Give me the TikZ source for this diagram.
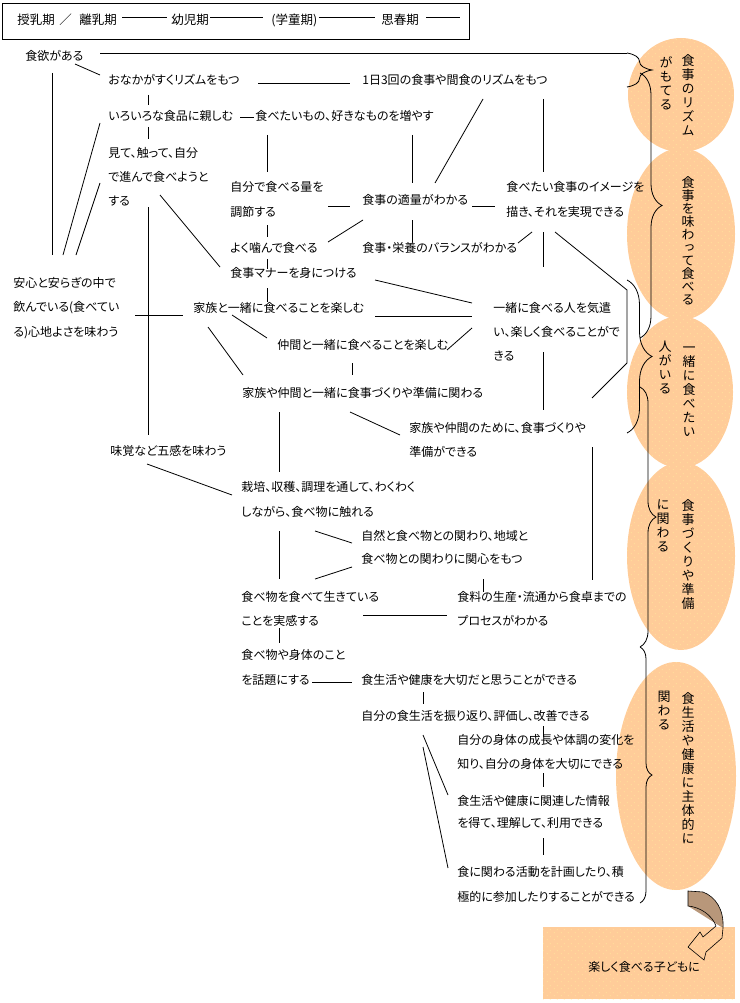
\documentclass[tikz,border=0pt]{standalone}
\usepackage{fontspec}
\newfontfamily\jp[RawFeature=+palt]{Noto Sans CJK JP}
\newfontfamily\jpv[RawFeature=+vert]{Noto Sans CJK JP}
\usetikzlibrary{decorations.pathreplacing,patterns.meta}
\definecolor{peach}{HTML}{FFCC99}
\definecolor{dotyellow}{HTML}{FFF0A0}
\definecolor{arrowbrown}{HTML}{B8977A}
\tikzdeclarepattern{name=sparsedots,type=uncolored,
  bounding box={(0pt,0pt) and (7pt,7pt)},tile size={(7pt,7pt)},
  code={\pgfpathrectangle{\pgfqpoint{1pt}{1pt}}{\pgfqpoint{0.8pt}{0.8pt}}
        \pgfpathrectangle{\pgfqpoint{4.5pt}{4.5pt}}{\pgfqpoint{0.8pt}{0.8pt}}
        \pgfusepath{fill}}}
\begin{document}
\begin{tikzpicture}[x=1pt,y=-1pt,line width=0.8pt,
  txt/.style={anchor=west,inner sep=0pt,font=\jp\fontsize{12}{14}\selectfont},
  head/.style={txt,font=\jp\fontsize{12.5}{14}\selectfont},
  vtxt/.style={anchor=north,inner sep=0pt,align=center,font=\jpv\fontsize{13}{14}\selectfont},
  blob/.style={fill=peach,postaction={pattern=sparsedots,pattern color=dotyellow}},
  brc/.style={decorate,decoration={brace,amplitude=#1}}]
\useasboundingbox (0,0) rectangle (739,1003);
\path[blob] (681,95) ellipse (53 and 57);
\path[blob] (681,234) ellipse (54 and 86);
\path[blob] (680,392) ellipse (53 and 76);
\path[blob] (681,556) ellipse (54 and 94);
\path[blob] (676,776) ellipse (60 and 114);
\fill[arrowbrown] (688,891) -- (703,892) .. controls (716,897) and (724,910) .. (723,928) -- (688,906) -- cycle;
\path[blob] (543,927) rectangle (735,999);
\draw[line width=0.6pt] (688,891) -- (703,892) .. controls (716,897) and (724,910) .. (723,928) -- (722,938) -- (706,952) -- (704,960) -- (688,947) -- (700,932) -- (703,937) -- (716,926) .. controls (712,915) and (700,907) .. (688,906) -- cycle;
\draw (2,3) rectangle (469,39);
\node[head] (jyunyu) at (17,20) {授乳期};
\node[head] (slash) at (59,20) {／};
\node[head] (rinyu) at (79,20) {離乳期};
\node[head] (yoji) at (171,20) {幼児期};
\node[head] (gakudo) at (271,20) {(学童期)};
\node[head] (shishun) at (381,20) {思春期};
\coordinate (hend) at (460,17);
\draw ([shift={(5,-3)}]rinyu.east) -- ([shift={(-4,-3)}]yoji.west);
\draw ([shift={(1,-3)}]yoji.east) -- ([shift={(-8,-3)}]gakudo.west);
\draw ([shift={(1,-3)}]gakudo.east) -- ([shift={(-6,-3)}]shishun.west);
\draw ([shift={(7,-3)}]shishun.east) -- (hend);
\node[txt] (shokuyoku) at (25,56) {食欲がある};
\node[txt] (onaka) at (108,80) {おなかがすくリズムをもつ};
\node[txt] (sankai) at (362,80) {1日3回の食事や間食のリズムをもつ};
\node[txt] (iroiro) at (108,116) {いろいろな食品に親しむ};
\node[txt] (suki) at (255,116) {食べたいもの、好きなものを増やす};
\node[txt] (mite1) at (108,153) {見て、触って、自分};
\node[txt] (mite2) at (108,177) {で進んで食べようと};
\node[txt] (mite3) at (108,201) {する};
\node[txt] (ryo1) at (230,187) {自分で食べる量を};
\node[txt] (ryo2) at (230,212) {調節する};
\node[txt] (tekiryo) at (362,200) {食事の適量がわかる};
\node[txt] (image1) at (506,187) {食べたい食事のイメージを};
\node[txt] (image2) at (506,212) {描き、それを実現できる};
\node[txt] (kamu) at (230,248) {よく噛んで食べる};
\node[txt] (balance) at (362,248) {食事・栄養のバランスがわかる};
\node[txt] (manner) at (230,273) {食事マナーを身につける};
\node[txt] (anshin1) at (13,283) {安心と安らぎの中で};
\node[txt] (anshin2) at (13,308) {飲んでいる(食べてい};
\node[txt] (anshin3) at (13,333) {る)心地よさを味わう};
\node[txt] (kazoku) at (193,308) {家族と一緒に食べることを楽しむ};
\node[txt] (kizukai1) at (493,308) {一緒に食べる人を気遣};
\node[txt] (kizukai2) at (493,332) {い、楽しく食べることがで};
\node[txt] (kizukai3) at (493,356) {きる};
\node[txt] (nakama) at (277,345) {仲間と一緒に食べることを楽しむ};
\node[txt] (junbi) at (242,393) {家族や仲間と一緒に食事づくりや準備に関わる};
\node[txt] (tame1) at (409,428) {家族や仲間のために、食事づくりや};
\node[txt] (tame2) at (409,452) {準備ができる};
\node[txt] (mikaku) at (110,451) {味覚など五感を味わう};
\node[txt] (saibai1) at (241,487) {栽培、収穫、調理を通して、わくわく};
\node[txt] (saibai2) at (241,512) {しながら、食べ物に触れる};
\node[txt] (shizen1) at (361,536) {自然と食べ物との関わり、地域と};
\node[txt] (shizen2) at (361,559) {食べ物との関わりに関心をもつ};
\node[txt] (ikiru1) at (241,597) {食べ物を食べて生きている};
\node[txt] (ikiru2) at (241,621) {ことを実感する};
\node[txt] (process1) at (457,597) {食料の生産・流通から食卓までの};
\node[txt] (process2) at (457,621) {プロセスがわかる};
\node[txt] (wadai1) at (241,655) {食べ物や身体のこと};
\node[txt] (wadai2) at (241,680) {を話題にする};
\node[txt] (taisetsu) at (361,680) {食生活や健康を大切だと思うことができる};
\node[txt] (furikaeri) at (361,716) {自分の食生活を振り返り、評価し、改善できる};
\node[txt] (karada1) at (457,740) {自分の身体の成長や体調の変化を};
\node[txt] (karada2) at (457,764) {知り、自分の身体を大切にできる};
\node[txt] (joho1) at (457,801) {食生活や健康に関連した情報};
\node[txt] (joho2) at (457,823) {を得て、理解して、利用できる};
\node[txt] (katsudo1) at (457,872) {食に関わる活動を計画したり、積};
\node[txt] (katsudo2) at (457,897) {極的に参加したりすることができる};
\node[txt] (goal) at (588,967) {楽しく食べる子どもに};
\node[vtxt] (rhythm) at (688,54) {食\\事\\の\\リ\\ズ\\ム};
\node[vtxt] (rhythm2) at (666,56) {が\\も\\て\\る};
\node[vtxt,font=\jpv\fontsize{13}{13}\selectfont] (ajiwau) at (688,176) {食\\事\\を\\味\\わ\\っ\\て\\食\\べ\\る};
\node[vtxt] (issho) at (689,346) {一\\緒\\に\\食\\べ\\た\\い};
\node[vtxt] (issho2) at (665,341) {人\\が\\い\\る};
\node[vtxt] (shokuji) at (688,499) {食\\事\\づ\\く\\り\\や\\準\\備};
\node[vtxt] (shokuji2) at (663,499) {に\\関\\わ\\る};
\node[vtxt] (shutai) at (688,692) {食\\生\\活\\や\\健\\康\\に\\主\\体\\的\\に};
\node[vtxt] (shutai2) at (664,691) {関\\わ\\る};
\coordinate (bA1) at (627,53);
\coordinate (bA2) at (627,87);
\draw ([shift={(75,-3)}]shokuyoku.west) -- (bA1);
\draw[brc=25] (bA1) -- (bA2);
\draw[brc=22] (640,73) -- (640,338);
\draw[brc=25] (627,280) -- (627,433);
\draw[brc=16] (640,387) -- (640,647);
\draw[brc=12] (640,647) -- (640,903);
\draw ([shift={(50,8)}]shokuyoku.west) -- ([shift={(-8,-5)}]onaka.west);
\draw ([shift={(150,3)}]onaka.west) -- ([shift={(-12,3)}]sankai.west);
\draw ([shift={(40,15)}]onaka.west) -- ([shift={(40,-11)}]iroiro.west);
\draw ([shift={(132,1)}]iroiro.west) -- ([shift={(-1,1)}]suki.west);
\draw ([shift={(40,11)}]iroiro.west) -- ([shift={(40,-14)}]mite1.west);
\draw ([shift={(12,19)}]suki.west) -- ([shift={(37,-15)}]ryo1.west);
\draw ([shift={(157,19)}]suki.west) -- ([shift={(50,-17)}]tekiryo.west);
\draw ([shift={(121,19)}]sankai.west) -- ([shift={(73,-17)}]tekiryo.west);
\draw ([shift={(181,19)}]sankai.west) -- ([shift={(37,-15)}]image1.west);
\draw ([shift={(98,-6)}]ryo2.west) -- ([shift={(-12,6)}]tekiryo.west);
\draw ([shift={(110,6)}]tekiryo.west) -- ([shift={(-11,19)}]image1.west);
\draw ([shift={(37,13)}]ryo2.west) -- ([shift={(37,-11)}]kamu.west);
\draw ([shift={(98,-6)}]kamu.west) -- ([shift={(1,20)}]tekiryo.west);
\draw ([shift={(50,20)}]tekiryo.west) -- ([shift={(50,-6)}]balance.west);
\draw ([shift={(26,20)}]image2.west) -- ([shift={(156,-5)}]balance.west);
\draw ([shift={(37,20)}]image2.west) -- ([shift={(50,-41)}]kizukai1.west);
\draw ([shift={(49,20)}]image2.west) -- ++(72,58) -- ++(0,73) -- ([shift={(183,-30)}]tame1.west);
\draw ([shift={(52,-6)}]mite3.west) -- ([shift={(-10,-6)}]manner.west);
\draw ([shift={(37,11)}]kamu.west) -- ([shift={(37,-4)}]manner.west);
\draw ([shift={(37,15)}]manner.west) -- ([shift={(74,-6)}]kazoku.west);
\draw ([shift={(145,7)}]manner.west) -- ([shift={(-21,-5)}]kizukai1.west);
\draw ([shift={(182,8)}]kazoku.west) -- ([shift={(-21,8)}]kizukai1.west);
\draw ([shift={(170,5)}]nakama.west) -- ([shift={(-21,-4)}]kizukai2.west);
\draw ([shift={(39,7)}]kazoku.west) -- ([shift={(-10,-7)}]nakama.west);
\draw ([shift={(15,19)}]kazoku.west) -- ([shift={(1,-18)}]junbi.west);
\draw ([shift={(75,18)}]nakama.west) -- ([shift={(110,-18)}]junbi.west);
\draw ([shift={(50,-4)}]kizukai3.west) -- ([shift={(134,-18)}]tame1.west);
\draw ([shift={(108,19)}]junbi.west) -- ([shift={(-9,7)}]tame1.west);
\draw ([shift={(37,19)}]junbi.west) -- ([shift={(38,-15)}]saibai1.west);
\draw ([shift={(40,6)}]mite3.west) -- ([shift={(38,-16)}]mikaku.west);
\draw ([shift={(122,7)}]anshin2.west) -- ([shift={(-10,7)}]kazoku.west);
\draw ([shift={(27,17)}]shokuyoku.west) -- ([shift={(39,-28)}]anshin1.west);
\draw ([shift={(-8,7)}]iroiro.west) -- ([shift={(50,-28)}]anshin1.west);
\draw ([shift={(-8,6)}]mite2.west) -- ([shift={(63,-28)}]anshin1.west);
\draw ([shift={(37,13)}]mikaku.west) -- ([shift={(-9,8)}]saibai1.west);
\draw ([shift={(38,19)}]saibai2.west) -- ([shift={(38,-18)}]ikiru1.west);
\draw ([shift={(74,19)}]saibai2.west) -- ([shift={(-9,7)}]shizen1.west);
\draw ([shift={(-9,8)}]shizen2.west) -- ([shift={(74,-18)}]ikiru1.west);
\draw ([shift={(122,20)}]shizen2.west) -- ([shift={(26,-5)}]process1.west);
\draw ([shift={(183,19)}]tame1.west) -- ([shift={(135,-17)}]process1.west);
\draw ([shift={(122,-6)}]ikiru2.west) -- ([shift={(-10,-6)}]process2.west);
\draw ([shift={(38,7)}]ikiru2.west) -- ([shift={(38,-12)}]wadai1.west);
\draw ([shift={(71,2)}]wadai2.west) -- ([shift={(-9,2)}]taisetsu.west);
\draw ([shift={(62,12)}]taisetsu.west) -- ([shift={(62,-12)}]furikaeri.west);
\draw ([shift={(182,10)}]furikaeri.west) -- ([shift={(86,-3)}]karada1.west);
\draw ([shift={(86,9)}]karada2.west) -- ([shift={(86,-14)}]joho1.west);
\draw ([shift={(86,15)}]joho2.west) -- ([shift={(86,-17)}]katsudo1.west);
\draw ([shift={(62,19)}]furikaeri.west) -- ([shift={(-9,-6)}]joho1.west);
\draw ([shift={(62,31)}]furikaeri.west) -- ([shift={(-9,-4)}]katsudo1.west);
\end{tikzpicture}
\end{document}
